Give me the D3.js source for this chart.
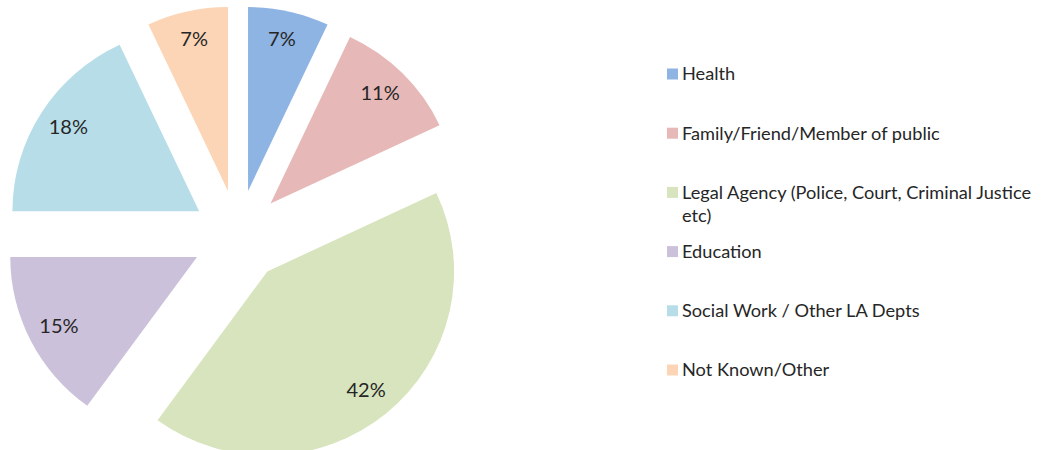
<!DOCTYPE html>
<meta charset="utf-8">
<style>
body { margin: 0; background: #fff; }
text {
  font-family: Lato, "Open Sans", sans-serif;
  fill: #262626;
}
.legend text { font-size: 18.2px; }
.labels text { font-size: 20px; }
</style>
<svg width="1043" height="450"></svg>
<script src="https://cdnjs.cloudflare.com/ajax/libs/d3/7.8.5/d3.min.js"></script>
<script>

var categories = ["Health", "Family/Friend/Member of public", "Legal Agency (Police, Court, Criminal Justice etc)",
                  "Education", "Social Work / Other LA Depts", "Not Known/Other"];
var values = [7, 11, 42, 15, 18, 7];
var colors = ["#8EB4E3", "#E6B9B8", "#D7E4BD", "#CCC1DA", "#B7DEE8", "#FBD5B5"];

var svg = d3.select("svg"),
    width = +svg.attr("width"),
    height = +svg.attr("height");

var cx = 238, cy = 236,
    radius = 184,
    explode = 46;   // every slice pulled out the same distance

var data = categories.map(function(c, i) { return { name: c, value: values[i], color: colors[i] }; });

var pie = d3.pie()
    .sort(null)
    .value(function(d) { return d.value; });

var arc = d3.arc().innerRadius(0).outerRadius(radius);
var labelArc = d3.arc().innerRadius(155).outerRadius(155);

function offset(d) {
  var mid = (d.startAngle + d.endAngle) / 2;
  return [Math.sin(mid) * explode, -Math.cos(mid) * explode];
}

var g = svg.append("g")
    .attr("transform", "translate(" + cx + "," + cy + ")");

var slice = g.selectAll("g.slice")
    .data(pie(data))
  .enter().append("g")
    .attr("class", "slice")
    .attr("transform", function(d) {
      var o = offset(d);
      return "translate(" + o[0] + "," + o[1] + ")";
    });

// the original pie is a touch wider than tall
slice.append("path")
    .attr("d", arc)
    .attr("transform", "scale(1.015,1)")
    .attr("fill", function(d) { return d.data.color; });

var labels = g.append("g")
    .attr("class", "labels")
    .attr("transform", "translate(0,-1)");
labels.selectAll("text")
    .data(pie(data))
  .enter().append("text")
    .attr("transform", function(d) {
      var o = offset(d), c = labelArc.centroid(d);
      return "translate(" + (c[0] + o[0]) + "," + (c[1] + o[1]) + ")";
    })
    .attr("text-anchor", "middle")
    .attr("dy", "0.35em")
    .text(function(d) { return d.data.value + "%"; });

// legend
var y = d3.scalePoint()
    .domain(categories)
    .range([74, 370]);

var legend = svg.append("g")
    .attr("class", "legend");

var item = legend.selectAll("g")
    .data(data)
  .enter().append("g")
    .attr("transform", function(d) { return "translate(667," + y(d.name) + ")"; });

item.append("rect")
    .attr("x", 0)
    .attr("y", -5.5)
    .attr("width", 11)
    .attr("height", 11)
    .attr("fill", function(d) { return d.color; });

var maxW = width - 682 - 4;
item.append("text")
    .attr("x", 15)
    .attr("dy", "0.35em")
    .each(function(d) {
      var t = d3.select(this),
          words = d.name.split(" "),
          line = [],
          tspan = t.append("tspan").attr("x", 15);
      words.forEach(function(w) {
        line.push(w);
        tspan.text(line.join(" "));
        if (tspan.node().getComputedTextLength() > maxW && line.length > 1) {
          line.pop();
          tspan.text(line.join(" "));
          line = [w];
          tspan = t.append("tspan").attr("x", 15).attr("dy", "23px").text(w);
        }
      });
    });

</script>
